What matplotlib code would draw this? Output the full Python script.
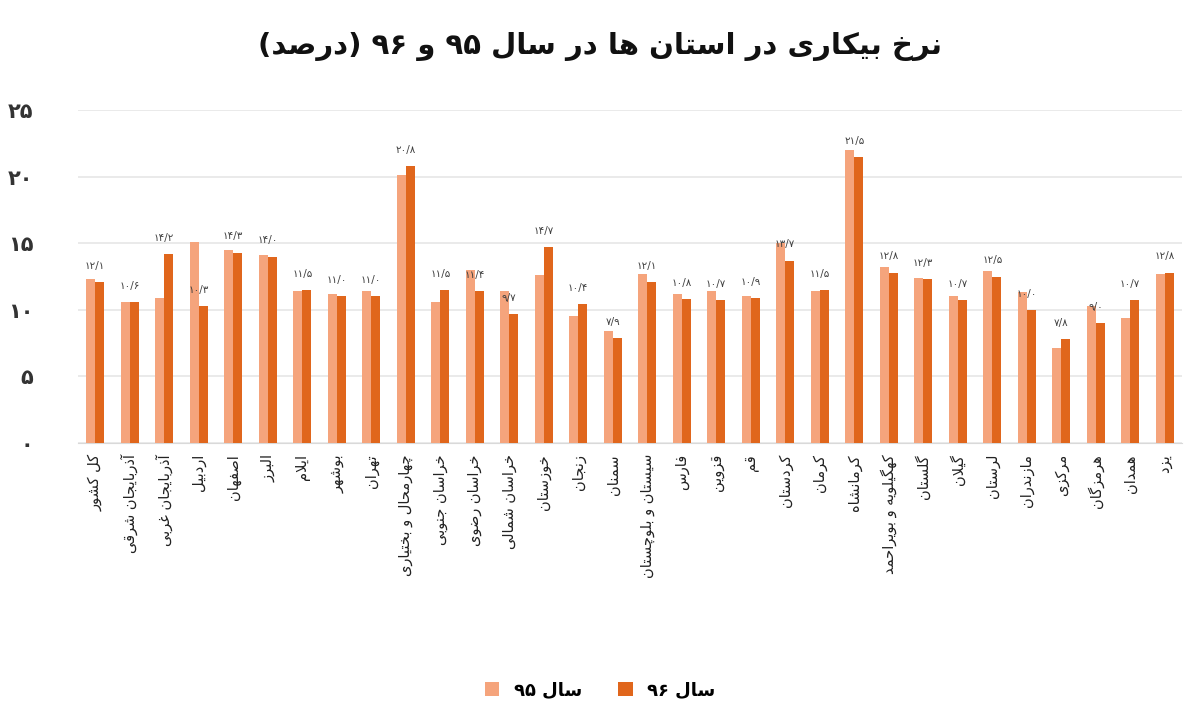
import re
import matplotlib
matplotlib.use("Agg")
import matplotlib.pyplot as plt
import numpy as np

# Data
provinces = ["کل کشور", "آذربایجان شرقی", "آذربایجان غربی", "اردبیل", "اصفهان", "البرز",
             "ایلام", "بوشهر", "تهران", "چهارمحال و بختیاری", "خراسان جنوبی", "خراسان رضوی",
             "خراسان شمالی", "خوزستان", "زنجان", "سمنان", "سیستان و بلوچستان", "فارس",
             "قزوین", "قم", "کردستان", "کرمان", "کرمانشاه", "کهگیلویه و بویراحمد", "گلستان",
             "گیلان", "لرستان", "مازندران", "مرکزی", "هرمزگان", "همدان", "یزد"]
rate_95 = [12.3, 10.6, 10.9, 15.1, 14.5, 14.1, 11.4, 11.2, 11.4, 20.1, 10.6, 13.0,
           11.4, 12.6, 9.5, 8.4, 12.7, 11.2, 11.4, 11.0, 15.0, 11.4, 22.0, 13.2, 12.4,
           11.0, 12.9, 11.3, 7.1, 10.3, 9.4, 12.7]
rate_96 = [12.1, 10.6, 14.2, 10.3, 14.3, 14.0, 11.5, 11.0, 11.0, 20.8, 11.5, 11.4,
           9.7, 14.7, 10.4, 7.9, 12.1, 10.8, 10.7, 10.9, 13.7, 11.5, 21.5, 12.8, 12.3,
           10.7, 12.5, 10.0, 7.8, 9.0, 10.7, 12.8]
yticks = [0, 5, 10, 15, 20, 25]
title = "نرخ بیکاری در استان ها در سال ۹۵ و ۹۶ (درصد)"
legend_labels = ["سال ۹۵", "سال ۹۶"]

# minimal Persian shaping (isolated, final, initial, medial)
FORMS = {
    'ا': (0xFE8D, 0xFE8E, None, None), 'آ': (0xFE81, 0xFE82, None, None),
    'ب': (0xFE8F, 0xFE90, 0xFE91, 0xFE92), 'پ': (0xFB56, 0xFB57, 0xFB58, 0xFB59),
    'ت': (0xFE95, 0xFE96, 0xFE97, 0xFE98), 'ث': (0xFE99, 0xFE9A, 0xFE9B, 0xFE9C),
    'ج': (0xFE9D, 0xFE9E, 0xFE9F, 0xFEA0), 'چ': (0xFB7A, 0xFB7B, 0xFB7C, 0xFB7D),
    'ح': (0xFEA1, 0xFEA2, 0xFEA3, 0xFEA4), 'خ': (0xFEA5, 0xFEA6, 0xFEA7, 0xFEA8),
    'د': (0xFEA9, 0xFEAA, None, None), 'ذ': (0xFEAB, 0xFEAC, None, None),
    'ر': (0xFEAD, 0xFEAE, None, None), 'ز': (0xFEAF, 0xFEB0, None, None),
    'ژ': (0xFB8A, 0xFB8B, None, None),
    'س': (0xFEB1, 0xFEB2, 0xFEB3, 0xFEB4), 'ش': (0xFEB5, 0xFEB6, 0xFEB7, 0xFEB8),
    'ص': (0xFEB9, 0xFEBA, 0xFEBB, 0xFEBC), 'ض': (0xFEBD, 0xFEBE, 0xFEBF, 0xFEC0),
    'ط': (0xFEC1, 0xFEC2, 0xFEC3, 0xFEC4), 'ظ': (0xFEC5, 0xFEC6, 0xFEC7, 0xFEC8),
    'ع': (0xFEC9, 0xFECA, 0xFECB, 0xFECC), 'غ': (0xFECD, 0xFECE, 0xFECF, 0xFED0),
    'ف': (0xFED1, 0xFED2, 0xFED3, 0xFED4), 'ق': (0xFED5, 0xFED6, 0xFED7, 0xFED8),
    'ک': (0xFB8E, 0xFB8F, 0xFB90, 0xFB91), 'گ': (0xFB92, 0xFB93, 0xFB94, 0xFB95),
    'ل': (0xFEDD, 0xFEDE, 0xFEDF, 0xFEE0), 'م': (0xFEE1, 0xFEE2, 0xFEE3, 0xFEE4),
    'ن': (0xFEE5, 0xFEE6, 0xFEE7, 0xFEE8), 'ه': (0xFEE9, 0xFEEA, 0xFEEB, 0xFEEC),
    'و': (0xFEED, 0xFEEE, None, None), 'ی': (0xFBFC, 0xFBFD, 0xFBFE, 0xFBFF),
}
LAM_ALEF = {'ا': (0xFEFB, 0xFEFC), 'آ': (0xFEF5, 0xFEF6)}


def joins_next(c):
    return c in FORMS and FORMS[c][2] is not None


def shape(text):
    res = []
    i, n = 0, len(text)
    while i < n:
        c = text[i]
        if c not in FORMS:
            res.append(c)
            i += 1
            continue
        pc = i > 0 and joins_next(text[i - 1])
        if c == 'ل' and i + 1 < n and text[i + 1] in LAM_ALEF:
            iso, fin = LAM_ALEF[text[i + 1]]
            res.append(chr(fin if pc else iso))
            i += 2
            continue
        nxt = text[i + 1] if i + 1 < n else ''
        nc = joins_next(c) and nxt in FORMS
        iso, fin, ini, med = FORMS[c]
        if pc and nc:
            g = med
        elif pc:
            g = fin
        elif nc:
            g = ini
        else:
            g = iso
        res.append(chr(g))
        i += 1
    return ''.join(res)


def fa(text):
    s = shape(text)[::-1]
    s = re.sub(r'[۰-۹0-9/]+', lambda m: m.group(0)[::-1], s)
    return s.translate(str.maketrans('()', ')('))


def fa_num(v, fmt="{:.1f}"):
    s = fmt.format(v).replace('.', '/')
    return s.translate(str.maketrans('0123456789', '۰۱۲۳۴۵۶۷۸۹'))


plt.rcParams['font.family'] = ['DejaVu Sans']

c95 = '#F5A47C'
c96 = '#E0661C'

fig = plt.figure(figsize=(12, 7.21), dpi=100)
ax = fig.add_axes([0.065, 0.3856, 0.92, 0.4618])

x = np.arange(len(provinces))
w = 0.26
ax.bar(x - w / 2, rate_95, w, color=c95, label=fa(legend_labels[0]), zorder=3)
ax.bar(x + w / 2, rate_96, w, color=c96, label=fa(legend_labels[1]), zorder=3)

for xi, v in zip(x, rate_96):
    ax.annotate(fa_num(v), (xi, v), xytext=(0, 8), textcoords='offset points',
                ha='center', va='bottom', fontsize=7.5, color='#404040')

ax.set_xlim(-0.5, len(provinces) - 0.5)
ax.set_ylim(0, 25)
ax.set_yticks(yticks)
ax.set_yticklabels([fa_num(t, "{:d}") for t in yticks], fontsize=15,
                   fontweight='bold', color='#333333')
ax.set_xticks(x)
ax.set_xticklabels([fa(p) for p in provinces], rotation=90, fontsize=10.5,
                   color='#222222', ha='center', va='top')
ax.tick_params(axis='y', length=0, pad=32)
ax.tick_params(axis='x', length=0, pad=8)
ax.grid(axis='y', color='#e6e6e6', linewidth=1.2, zorder=0)
for s in ['top', 'right', 'left']:
    ax.spines[s].set_visible(False)
ax.spines['bottom'].set_color('#d9d9d9')

fig.text(0.5, 0.935, fa(title), ha='center', va='center', fontsize=21,
         fontweight='bold', color='#111111')

fig.legend(loc='center', bbox_to_anchor=(0.5, 0.043), ncol=2, frameon=False,
           handlelength=0.8, handleheight=0.8, columnspacing=2.0,
           prop={'weight': 'bold', 'size': 13})

fig.savefig("out.png", dpi=100)
